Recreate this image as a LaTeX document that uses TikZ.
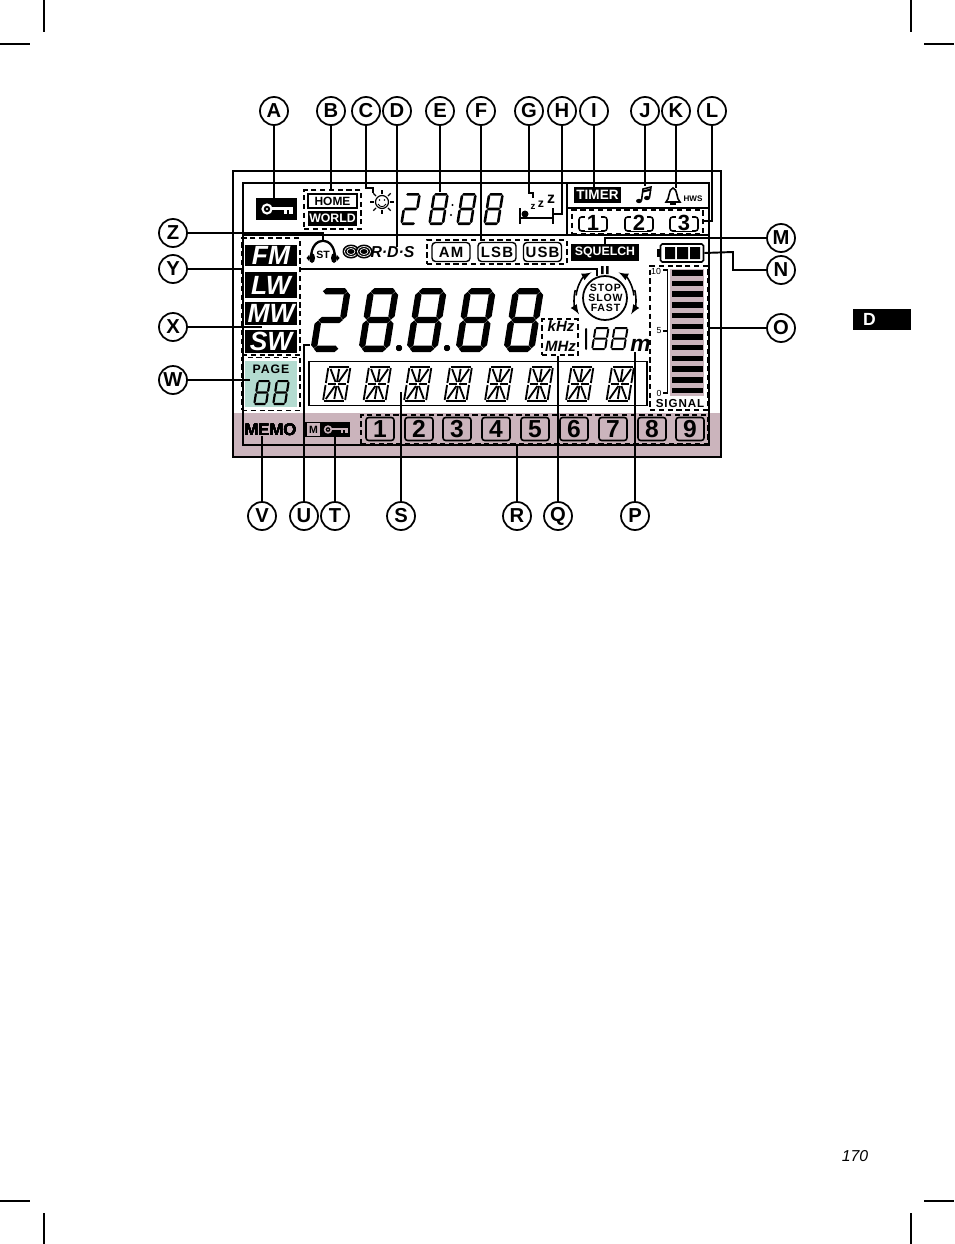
\documentclass[tikz,border=0pt]{standalone}
\usepackage{fontspec}
\setmainfont{Liberation Sans}
\newfontfamily\spaced[LetterSpace=8]{Liberation Sans}
\definecolor{lcdrose}{HTML}{CBB4BC}
\definecolor{lcdvert}{HTML}{B3DBD0}
\tikzset{
	repere/.style={draw, circle, line width=1pt, minimum size=0.56cm, inner sep=0pt, font=\fontsize{11.5}{11.5}\selectfont\bfseries},
	lead/.style={line width=1.1pt},
	leadfin/.style={line width=0.7pt},
	pointille/.style={draw, dashed, line width=0.85pt, dash pattern=on 3pt off 2pt},
	noir/.style={fill=black, text=white, inner sep=0pt, font=\fontsize{7}{7}\selectfont\bfseries},
	bande/.style={noir, minimum width=1.04cm, font=\fontsize{15}{15}\selectfont\bfseries\itshape},
	mode/.style={draw, rounded corners=2pt, line width=0.8pt, minimum width=0.76cm, minimum height=0.38cm, inner sep=0pt, font=\spaced\fontsize{8.5}{8.5}\selectfont\bfseries},
	touche/.style={draw, rounded corners=1.5pt, line width=0.9pt, minimum width=0.56cm, minimum height=0.46cm, inner sep=0pt},
	chiffre/.style={inner sep=0pt, font=\fontsize{14}{14}\selectfont\bfseries},
	texte/.style={inner sep=0pt, font=\spaced\fontsize{6}{6}\selectfont\bfseries}
}
\newcommand{\seghor}[4]{\fill ({#1},{#3}) -- ({#1+#4},{#3-#4}) -- ({#2-#4},{#3-#4}) -- ({#2},{#3}) -- ({#2-#4},{#3+#4}) -- ({#1+#4},{#3+#4}) -- cycle;}
\newcommand{\segver}[4]{\fill ({#1},{#2}) -- ({#1+#4},{#2+#4}) -- ({#1+#4},{#3-#4}) -- ({#1},{#3}) -- ({#1-#4},{#3-#4}) -- ({#1-#4},{#2+#4}) -- cycle;}
% x, base, largeur, hauteur, demi-trait
\newcommand{\digitdeux}[5]{\begin{scope}[shift={(#1,#2)},xslant=.16]
	\seghor{#5}{#3-#5}{-#4+#5}{#5}
	\seghor{#5}{#3-#5}{-#4/2}{#5}
	\seghor{#5}{#3-#5}{-#5}{#5}
	\segver{#3-#5}{-#4+#5+.5}{-#4/2-.5}{#5}
	\segver{#5}{-#4/2+.5}{-#5-.5}{#5}
	\end{scope}}
\newcommand{\digithuit}[5]{\digitdeux{#1}{#2}{#3}{#4}{#5}\begin{scope}[shift={(#1,#2)},xslant=.16]
	\segver{#5}{-#4+#5+.5}{-#4/2-.5}{#5}
	\segver{#3-#5}{-#4/2+.5}{-#5-.5}{#5}
	\end{scope}}
\newcommand{\quatorze}[1]{\begin{scope}[shift={(#1,401)},xslant=.16,line width=1.05pt]
	\draw (1,-34) -- (21,-34);
	\draw (1,0) -- (21,0);
	\draw (0,-33) -- (0,-18) (0,-16) -- (0,-1);
	\draw (22,-33) -- (22,-18) (22,-16) -- (22,-1);
	\draw (2,-17) -- (10,-17) (12,-17) -- (20,-17);
	\draw (11,-32) -- (11,-19) (11,-15) -- (11,-2);
	\draw (2.5,-32) -- (9.5,-19) (19.5,-32) -- (12.5,-19);
	\draw (2.5,-2) -- (9.5,-15) (19.5,-2) -- (12.5,-15);
	\end{scope}}
% x de l'anneau, y, echelle, couleur
\newcommand{\clef}[4]{\begin{scope}[shift={(#1,#2)},scale=#3]
	\draw[#4, line width=#3*1.2pt] (0,0) circle (4.5);
	\fill[#4] (0,0) circle (1.2);
	\fill[#4] (4.5,-2) rectangle (26,1);
	\fill[#4] (17,1) rectangle (19.5,4.5);
	\fill[#4] (22,1) rectangle (26,4.5);
	\end{scope}}
\begin{document}
\begin{tikzpicture}[x=0.02cm,y=-0.02cm]
	\useasboundingbox (0,0) rectangle (954,1244);
	% traits de coupe
	\draw[leadfin] (44,0) -- (44,32);
	\draw[leadfin] (0,44) -- (30,44);
	\draw[leadfin] (911,0) -- (911,32);
	\draw[leadfin] (924,44) -- (954,44);
	\draw[leadfin] (44,1213) -- (44,1244);
	\draw[leadfin] (0,1201) -- (30,1201);
	\draw[leadfin] (911,1213) -- (911,1244);
	\draw[leadfin] (924,1201) -- (954,1201);
	\node[noir, minimum width=1.16cm, minimum height=0.42cm, font=\fontsize{10}{10}\selectfont\bfseries, text depth=0pt] (tab) at (882,319.5) {\hspace*{-0.5cm}D};
	\node[font=\fontsize{9}{9}\selectfont\itshape, inner sep=0pt] (folio) at (855,1156) {170};
	% le cadre
	\fill[lcdrose] (233,413) rectangle (721,457);
	\draw[line width=1.5pt] (233,171) rectangle (721,457);
	\draw[leadfin] (243,445) -- (243,183) -- (709,183) -- (709,445) -- cycle;
	\draw[leadfin] (567,183) -- (567,235);
	\draw[leadfin] (567,208) -- (709,208);
	\draw[leadfin] (243,235) -- (709,235);
	\draw[leadfin] (300,269) -- (597,269) -- (597,276);
	% les blocs du haut
	\node[noir, minimum width=0.82cm, minimum height=0.44cm] (cle) at (276.5,209) {};
	\clef{267}{209}{1}{white}
	\node[pointille, minimum width=1.14cm, minimum height=0.78cm] (zone) at (332.5,209.5) {};
	\node[draw, line width=0.8pt, minimum width=0.98cm, minimum height=0.28cm, inner sep=0pt, font=\fontsize{6.8}{6.8}\selectfont\bfseries] (home) at (332.5,201) {HOME};
	\node[noir, minimum width=1cm, minimum height=0.3cm] (world) at (332.5,218) {WORLD};
	\node[draw, circle, line width=0.7pt, minimum size=0.26cm, inner sep=0pt] (soleil) at (382,202) {};
	\foreach \a in {0,45,...,315}
		\draw[line width=0.7pt] ([shift={(\a:4.8pt)}]soleil.center) -- ([shift={(\a:7pt)}]soleil.center);
	\fill (379.5,200) circle (0.8) (384.5,200) circle (0.8);
	\draw[line width=0.5pt] (378,204) .. controls (380,207.5) and (384,207.5) .. (386,204);
	\digitdeux{400}{225}{16}{32}{1.3}
	\digithuit{428}{225}{16}{32}{1.3}
	\digithuit{456}{225}{16}{32}{1.3}
	\digithuit{483}{225}{16}{32}{1.3}
	\fill (452.5,205) circle (1.2) (451,215) circle (1.2);
	\node[inner sep=0pt, font=\fontsize{5.5}{5.5}\selectfont\bfseries] (za) at (533,207) {z};
	\node[inner sep=0pt, font=\fontsize{7}{7}\selectfont\bfseries] (zb) at (541,204) {z};
	\node[inner sep=0pt, font=\fontsize{9}{9}\selectfont\bfseries] (zc) at (551,199) {z};
	\draw[line width=1pt] (520,208) -- (520,224) (553,208) -- (553,224);
	\draw[line width=1.2pt] (520,218) -- (553,218);
	\fill (525,214) circle (3.5);
	\node[noir, minimum width=0.94cm, minimum height=0.32cm, font=\fontsize{7.7}{7.7}\selectfont\bfseries] (timer) at (597.5,195) {TIMER};
	\node[inner sep=0pt, minimum width=0.3cm, minimum height=0.36cm] (note) at (644,195) {};
	\fill (639,201) ellipse (3 and 2.2) (647,198) ellipse (3 and 2.2);
	\draw[line width=0.9pt] (641.5,200.5) -- (643,189) -- (651,187) -- (649.5,197.5);
	\draw[line width=1.2pt] (643,191.5) -- (651,189.5);
	\node[inner sep=0pt, minimum size=0.26cm] (cloche) at (673,195) {};
	\draw[line width=0.9pt] (666,202) .. controls (670,199) and (668,189) .. (673,188) .. controls (678,189) and (676,199) .. (680,202) -- cycle;
	\fill (670,203) rectangle (676,204.5);
	\node[inner sep=0pt, font=\fontsize{4.6}{4.6}\selectfont\bfseries] (hws) at (693,199) {HWS};
	\node[pointille, minimum width=2.62cm, minimum height=0.48cm] (preset) at (637.5,222) {};
	\foreach \n/\x in {1/593,2/639,3/684} {
		\node[touche, minimum height=0.28cm] (pr\n) at (\x,224) {};
		\node[chiffre, fill=white, inner xsep=1pt, font=\fontsize{12.5}{12.5}\selectfont\bfseries] (prn\n) at (\x,223) {\n};
	}
	% deuxieme ligne
	\node[pointille, minimum width=1.16cm, minimum height=2.34cm] (bandes) at (271,296.5) {};
	\node[bande, minimum height=0.42cm] (fm) at (271,255.5) {FM};
	\node[bande, minimum height=0.52cm] (lw) at (271,285) {LW};
	\node[bande, minimum height=0.46cm] (mw) at (271,313) {MW};
	\node[bande, minimum height=0.46cm] (sw) at (271,341.5) {SW};
	\node[inner sep=0pt, minimum width=0.48cm, minimum height=0.44cm] (casque) at (323,251) {};
	\node[inner sep=0pt, font=\fontsize{6}{6}\selectfont\bfseries] (st) at (323,255) {ST};
	\draw[line width=1.3pt] (311,258) .. controls (311,235) and (335,235) .. (335,258);
	\fill (312,258) ellipse (3 and 5) (334,258) ellipse (3 and 5);
	\fill (309,261) -- (306.5,258) -- (309,255) -- cycle (337,261) -- (339.5,258) -- (337,255) -- cycle;
	\foreach \c in {351,364} {
		\fill (\c,251.5) ellipse (8.5 and 7);
		\draw[white, line width=0.4pt] (\c,251.5) ellipse (6.5 and 5);
		\draw[white, line width=0.4pt] (\c,251.5) ellipse (4 and 3);
	}
	\node[inner sep=0pt, font=\fontsize{9}{9}\selectfont\bfseries\itshape] (rds) at (392.5,252.5) {R\textperiodcentered D\textperiodcentered S};
	\node[pointille, minimum width=2.8cm, minimum height=0.48cm] (modes) at (497,252) {};
	\node[mode] (am) at (451,252) {AM};
	\node[mode] (lsb) at (497,252) {LSB};
	\node[mode] (usb) at (542.5,252) {USB};
	\node[noir, minimum width=1.36cm, minimum height=0.34cm] (squelch) at (605,252.5) {SQUELCH};
	% la batterie
	\node[draw, rounded corners=1pt, line width=0.9pt, minimum width=0.86cm, minimum height=0.36cm, inner sep=0pt] (batterie) at (682,253) {};
	\fill (657,249) rectangle (660,257);
	\fill (665,247) rectangle (675,259) (677,247) rectangle (688,259) (690,247) rectangle (700,259);
	% le grand affichage
	\digitdeux{310}{352}{31}{64}{3.2}
	\foreach \x in {358,406,455,503}
		\digithuit{\x}{352}{31}{64}{3.2}
	\fill (399,348) circle (3) (447,348) circle (3);
	% vitesse
	\fill (601,266) rectangle (603.5,274) (606,266) rectangle (608.5,274);
	\node[draw, circle, line width=1pt, minimum size=0.88cm, inner sep=0pt] (vitesse) at (605,298) {};
	\node[texte] (stop) at (605.5,288) {STOP};
	\node[texte] (slow) at (605.5,298) {SLOW};
	\node[texte] (fast) at (605.5,308) {FAST};
	\draw[-latex, line width=0.9pt] ([shift={(175:16.5pt)}]vitesse.center) arc [start angle=175, end angle=118, radius=16.5pt];
	\draw[-latex, line width=0.9pt] ([shift={(5:16.5pt)}]vitesse.center) arc [start angle=5, end angle=62, radius=16.5pt];
	\draw[-latex, line width=0.9pt] ([shift={(165:17.5pt)}]vitesse.center) arc [start angle=165, end angle=212, radius=17.5pt];
	\draw[-latex, line width=0.9pt] ([shift={(15:17.5pt)}]vitesse.center) arc [start angle=15, end angle=-32, radius=17.5pt];
	\node[pointille, minimum width=0.72cm, minimum height=0.72cm] (unites) at (560,337) {};
	\node[inner sep=0pt, font=\fontsize{8.5}{8.5}\selectfont\bfseries\itshape] (khz) at (561,326) {kHz};
	\node[inner sep=0pt, font=\fontsize{8.5}{8.5}\selectfont\bfseries\itshape] (mhz) at (560.5,346) {MHz};
	\segver{586}{328}{350}{1}
	\digithuit{591}{350}{15}{23}{1}
	\digithuit{610}{350}{15}{23}{1}
	\node[inner sep=0pt, font=\fontsize{13}{13}\selectfont\bfseries\itshape] (metre) at (640.5,345) {m};
	% le signal
	\node[pointille, minimum width=1.16cm, minimum height=2.88cm] (signal) at (679,338) {};
	\fill[lcdrose] (670,269) rectangle (704,396);
	\foreach \y in {270,280.7,291.4,302.1,312.8,323.5,334.2,344.9,355.6,366.3,377,387.7}
		\fill (672,\y) rectangle (703,\y+5.5);
	\draw[leadfin] (663,270) -- (667.5,270) -- (667.5,393) -- (663,393) (663,331) -- (667.5,331);
	\node[inner sep=0pt, font=\fontsize{5}{5}\selectfont] (dix) at (656,271) {10};
	\node[inner sep=0pt, font=\fontsize{5}{5}\selectfont] (cinq) at (659,331) {5};
	\node[inner sep=0pt, font=\fontsize{5}{5}\selectfont] (zero) at (659,393) {0};
	\node[inner sep=0pt, font=\spaced\fontsize{6.6}{6.6}\selectfont\bfseries] (signaltxt) at (680,404) {SIGNAL};
	% la page
	\node[pointille, minimum width=1.16cm, minimum height=1.06cm] (pagebox) at (271,384) {};
	\node[fill=lcdvert, minimum width=1.04cm, minimum height=0.92cm, inner sep=0pt] (page) at (271,384) {};
	\node[inner sep=0pt, font=\spaced\fontsize{7}{7}\selectfont\bfseries] (pagetxt) at (271,369) {PAGE};
	\digithuit{253}{405}{14}{25}{1.1}
	\digithuit{272}{405}{14}{25}{1.1}
	% les caracteres
	\node[draw, line width=1pt, minimum width=6.76cm, minimum height=0.88cm, inner sep=0pt] (ligne) at (478,383.5) {};
	\foreach \x in {323,363.5,404,444.5,485,525.5,566,606.5}
		\quatorze{\x}
	% la memoire
	\node[inner sep=0pt, font=\fontsize{9.5}{9.5}\selectfont\bfseries] (memo) at (270.5,429.5) {MEMO};
	\node[draw, line width=0.8pt, minimum width=0.3cm, minimum height=0.28cm, inner sep=0pt, font=\fontsize{6}{6}\selectfont\bfseries] (mbox) at (313.5,429.5) {M};
	\node[fill=black, minimum width=0.58cm, minimum height=0.3cm] (mcle) at (335.5,429.5) {};
	\clef{328}{429.5}{0.75}{lcdrose}
	\node[pointille, minimum width=6.94cm, minimum height=0.58cm] (memoires) at (534.5,429.5) {};
	\foreach \n/\x in {1/380,2/419,3/457,4/496,5/535,6/574,7/613,8/652,9/690} {
		\node[touche] (m\n) at (\x,429) {};
		\node[chiffre] (mn\n) at (\x,429) {\n};
	}
	% les reperes
	\foreach \n/\x in {A/274,B/331,C/366,D/397,E/440,F/481,G/529,H/562,I/594,J/645,K/676,L/712}
		\node[repere] (l\n) at (\x,111) {\n};
	\foreach \n/\y in {Z/233,Y/269,X/327,W/380}
		\node[repere] (l\n) at (173,\y) {\n};
	\foreach \n/\y in {M/238,N/270,O/328}
		\node[repere] (l\n) at (781,\y) {\n};
	\foreach \n/\x in {V/262,U/304,T/335,S/401,R/517,Q/558,P/635}
		\node[repere] (l\n) at (\x,516) {\n};
	% les points d'arrivee
	\coordinate (aC) at (373,193);
	\coordinate (aD) at (397,247);
	\coordinate (aE) at (440,192);
	\coordinate (aG) at (533,198);
	\coordinate (aH) at (553,214);
	\coordinate (aL) at (703,221);
	\coordinate (aX) at (262,327);
	\coordinate (aY) at (244,269);
	\coordinate (aW) at (250,380);
	\coordinate (aU) at (310,345);
	\coordinate (aS) at (401,392);
	\coordinate (aP) at (635,352);
	% les traits
	\draw[leadfin] (lA) -- (lA |- cle.north);
	\draw[lead] (lB) -- (lB |- zone.north);
	\draw[leadfin] (lC) -- (366,188) -- (373,188) -- (aC);
	\draw[lead] (lD) -- (aD);
	\draw[lead] (lE) -- (aE);
	\draw[lead] (lF) -- (lF |- modes.north);
	\draw[lead] (lG) -- (529,193) -- (533,193) -- (aG);
	\draw[lead] (lH) |- (aH);
	\draw[lead] (lI) -- (lI |- timer.north);
	\draw[lead] (lJ) -- (lJ |- note.north);
	\draw[lead] (lK) -- (lK |- cloche.north);
	\draw[lead] (lL) |- (aL);
	\draw[lead] (lM) -| (squelch.north);
	\draw[lead] (lN) -- (733,270) -- (733,252) -- (batterie.east);
	\draw[leadfin] (lO) -- (lO -| signal.east);
	\draw[leadfin] (lX) -- (aX);
	\draw[leadfin] (lY) -- (aY);
	\draw[lead] (lZ) -| (casque.north);
	\draw[lead] (lW) -- (aW);
	\draw[lead] (lV) -- (lV |- memo.south);
	\draw[lead] (lU) |- (aU);
	\draw[lead] (lT) -- (lT |- mcle.center);
	\draw[leadfin] (lS) -- (aS);
	\draw[lead] (lR) -- (lR |- memoires.south);
	\draw[lead] (lQ) -- (lQ |- unites.south);
	\draw[lead] (lP) -- (aP);
\end{tikzpicture}
\end{document}
